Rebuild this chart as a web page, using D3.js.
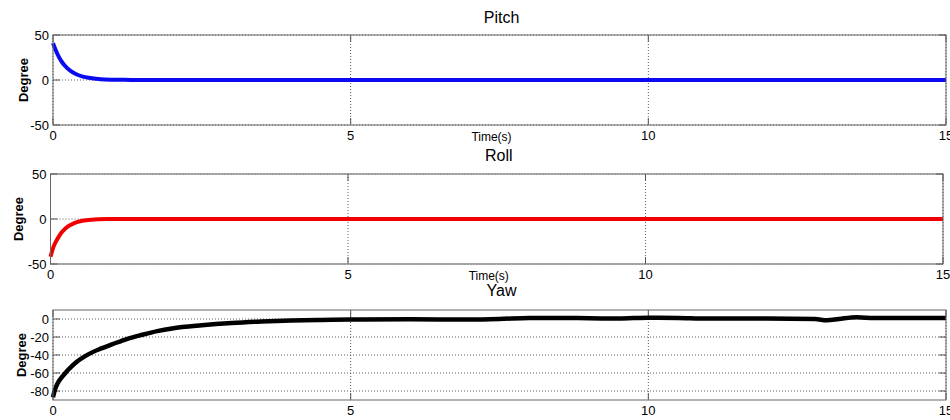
<!DOCTYPE html>
<html>
<head>
<meta charset="utf-8">
<script src="https://cdn.jsdelivr.net/npm/d3@7/dist/d3.min.js"></script>
<style>
  html, body { margin: 0; padding: 0; background: #fff; }
  svg { display: block; font-family: "Liberation Sans", Arial, Helvetica, sans-serif; }
</style>
</head>
<body>
<svg id="chart" width="950" height="420"></svg>
<script>
// Time samples (s) and attitude angles (degrees) for each channel
const pitchTime = [0, 0.05, 0.1, 0.15, 0.2, 0.3, 0.4, 0.5, 0.6, 0.8, 1.0, 1.2, 1.5, 2, 4, 6, 8, 10, 12, 15];
const pitchDeg  = [41, 32.5, 25.4, 20, 15.8, 9.8, 6.1, 3.8, 2.4, 0.9, 0.35, 0.15, 0, 0, 0, 0, 0, 0, 0, 0];

const rollTime = [0, 0.05, 0.1, 0.15, 0.2, 0.3, 0.4, 0.5, 0.6, 0.8, 1.0, 1.2, 1.5, 2, 4, 6, 8, 10, 12, 15];
const rollDeg  = [-42, -31, -24, -18.5, -14, -8, -4.5, -2.5, -1.4, -0.4, -0.1, 0, 0, 0, 0, 0, 0, 0, 0, 0];

const yawTime = [0, 0.03, 0.06, 0.1, 0.2, 0.3, 0.4, 0.6, 0.8, 1.0, 1.25, 1.5, 1.75, 2.0, 2.5, 3.0, 3.5, 4.0, 4.5, 5.0,
                 6.0, 7.0, 7.5, 8.0, 8.5, 9.0, 9.5, 10.0, 10.5, 11.0, 12.0, 12.8, 13.0, 13.2, 13.5, 13.8, 14.0, 15.0];
const yawDeg  = [-87, -79, -74, -69, -60.5, -53.5, -47.5, -39, -33, -28, -22, -17.5, -13.5, -10.5, -7, -4.5, -2.8, -1.6, -1, -0.6,
                 -0.3, -0.6, 0, 1.2, 1.2, 0.8, 0.5, 1.5, 1.2, 0.6, 0.6, 0, -1.5, 0, 2, 1, 1, 1];

// Axis ticks
const timeTicks = [0, 5, 10, 15];
const pitchTicks = [-50, 0, 50];
const rollTicks = [-50, 0, 50];
const yawTicks = [-80, -60, -40, -20, 0];

const svg = d3.select("#chart");

const panels = [
  { title: "Pitch", t: pitchTime, v: pitchDeg, color: "#0a0af0", yDomain: [-50, 50], yTicks: pitchTicks,
    x0: 53, x1: 946, top: 35, bottom: 125, xlabel: true, titleY: 23, degX: 23, lw: 4 },
  { title: "Roll", t: rollTime, v: rollDeg, color: "#f00000", yDomain: [-50, 50], yTicks: rollTicks,
    x0: 50.5, x1: 943, top: 174, bottom: 264, xlabel: true, titleY: 161, degX: 18, lw: 4 },
  { title: "Yaw", t: yawTime, v: yawDeg, color: "#000000", yDomain: [-90, 10], yTicks: yawTicks,
    x0: 53, x1: 946, top: 310, bottom: 400, xlabel: false, titleY: 296, degX: 21, lw: 4.5 }
];

panels.forEach(p => {
  const x = d3.scaleLinear().domain([0, 15]).range([p.x0, p.x1]);
  const y = d3.scaleLinear().domain(p.yDomain).range([p.bottom, p.top]);
  const g = svg.append("g");

  // dotted grid
  g.selectAll(".gx").data(timeTicks).join("line")
    .attr("x1", d => x(d)).attr("x2", d => x(d))
    .attr("y1", p.top).attr("y2", p.bottom)
    .attr("stroke", "#333").attr("stroke-width", 0.8).attr("stroke-dasharray", "1,2");
  g.selectAll(".gy").data(p.yTicks).join("line")
    .attr("x1", p.x0).attr("x2", p.x1)
    .attr("y1", d => y(d)).attr("y2", d => y(d))
    .attr("stroke", "#333").attr("stroke-width", 0.8).attr("stroke-dasharray", "1,2");

  // inward tick marks on all four sides
  const tl = 7;
  g.selectAll(".tb").data(timeTicks).join("line")
    .attr("x1", d => x(d)).attr("x2", d => x(d))
    .attr("y1", p.bottom).attr("y2", p.bottom - tl)
    .attr("stroke", "#555").attr("stroke-width", 1);
  g.selectAll(".tt").data(timeTicks).join("line")
    .attr("x1", d => x(d)).attr("x2", d => x(d))
    .attr("y1", p.top).attr("y2", p.top + tl)
    .attr("stroke", "#555").attr("stroke-width", 1);
  g.selectAll(".tlft").data(p.yTicks).join("line")
    .attr("x1", p.x0).attr("x2", p.x0 + tl)
    .attr("y1", d => y(d)).attr("y2", d => y(d))
    .attr("stroke", "#555").attr("stroke-width", 1);
  g.selectAll(".trgt").data(p.yTicks).join("line")
    .attr("x1", p.x1).attr("x2", p.x1 - tl)
    .attr("y1", d => y(d)).attr("y2", d => y(d))
    .attr("stroke", "#555").attr("stroke-width", 1);

  // data line
  const line = d3.line()
    .x((d, i) => x(p.t[i]))
    .y(d => y(d))
    .curve(d3.curveMonotoneX);
  g.append("path")
    .attr("d", line(p.v))
    .attr("fill", "none")
    .attr("stroke", p.color)
    .attr("stroke-width", p.lw)
    .attr("stroke-linejoin", "round");

  // axes box
  g.append("rect")
    .attr("x", p.x0).attr("y", p.top)
    .attr("width", p.x1 - p.x0).attr("height", p.bottom - p.top)
    .attr("fill", "none").attr("stroke", "#666").attr("stroke-width", 1);

  // tick labels
  g.selectAll(".ly").data(p.yTicks).join("text")
    .attr("x", p.x0 - 4).attr("y", d => y(d))
    .attr("dy", "0.35em")
    .attr("text-anchor", "end")
    .attr("font-size", 13)
    .attr("fill", "#000")
    .text(d => d);
  g.selectAll(".lx").data(timeTicks).join("text")
    .attr("x", d => x(d)).attr("y", p.bottom + 10)
    .attr("dy", "0.35em")
    .attr("text-anchor", "middle")
    .attr("font-size", 13)
    .attr("fill", "#000")
    .text(d => d);

  // titles and axis labels
  g.append("text")
    .attr("x", (p.x0 + p.x1) / 2 + 2).attr("y", p.titleY)
    .attr("text-anchor", "middle")
    .attr("font-size", 16)
    .text(p.title);
  g.append("text")
    .attr("transform", `translate(${p.degX},${(p.top + p.bottom) / 2}) rotate(-90)`)
    .attr("dy", "0.35em")
    .attr("text-anchor", "middle")
    .attr("font-size", 13)
    .attr("font-weight", "bold")
    .text("Degree");
  if (p.xlabel) {
    g.append("text")
      .attr("x", (p.x0 + p.x1) / 2 - 8).attr("y", p.bottom + 12)
      .attr("dy", "0.35em")
      .attr("text-anchor", "middle")
      .attr("font-size", 12)
      .text("Time(s)");
  }
});
</script>
</body>
</html>
